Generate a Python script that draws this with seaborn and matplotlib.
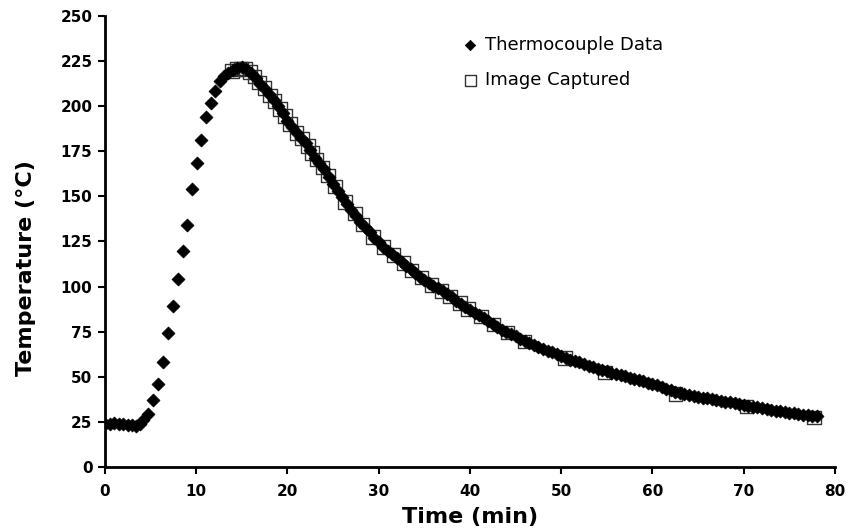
import numpy as np
import pandas as pd
import matplotlib
matplotlib.use("Agg")
import matplotlib.pyplot as plt
import seaborn as sns

# Thermocouple data (time in min, temperature in °C)
tc_time = [0, 0.5, 1, 1.5, 2, 2.5, 3, 3.4, 3.8, 4.2, 4.75, 5.25, 5.8, 6.35, 6.9, 7.45,
           8.0, 8.5, 9.0, 9.5, 10.05, 10.55, 11.05, 11.6, 12.1, 12.6, 13.0,
           13.5, 14.0, 14.5, 15.0, 15.5, 16.0, 16.5, 17.0, 17.5, 18.0, 18.5, 19.0, 19.5,
           20.0, 20.5, 21.0, 21.5, 22.0, 22.5, 23.0, 23.5, 24.0, 24.5, 25.0, 25.5,
           26.0, 26.5, 27.0, 27.5, 28.0, 28.5, 29.0, 29.5, 30.0, 30.5, 31.0, 31.5,
           32.0, 32.5, 33.0, 33.5, 34.0, 34.5, 35.0, 35.5, 36.0, 36.5, 37.0, 37.5,
           38.0, 38.5, 39.0, 39.5, 40.0, 40.5, 41.0, 41.5, 42.0, 42.5, 43.0, 43.5,
           44.0, 44.5, 45.0, 45.5, 46.0, 46.5, 47.0, 47.5, 48.0, 48.5, 49.0, 49.5,
           50.0, 50.5, 51.0, 51.5, 52.0, 52.5, 53.0, 53.5, 54.0, 54.5, 55.0, 55.5,
           56.0, 56.5, 57.0, 57.5, 58.0, 58.5, 59.0, 59.5, 60.0, 60.5, 61.0, 61.5,
           62.0, 62.5, 63.0, 63.5, 64.0, 64.5, 65.0, 65.5, 66.0, 66.5, 67.0, 67.5,
           68.0, 68.5, 69.0, 69.5, 70.0, 70.5, 71.0, 71.5, 72.0, 72.5, 73.0, 73.5,
           74.0, 74.5, 75.0, 75.5, 76.0, 76.5, 77.0, 77.5, 78.0]
tc_temp = [24, 24, 24.5, 24, 24, 23.5, 23.5, 22.5, 24, 26, 29.5, 37, 46, 58, 74, 89,
           104, 120, 134, 154, 168.5, 181.5, 194, 202, 208.5, 214, 217,
           218.5, 220, 221, 221.5, 220.5, 218.5, 215.5, 212.5, 209.5, 206.5, 203.5, 200, 196,
           192, 188.5, 185, 182.5, 179.5, 175.5, 171.5, 168.5, 165, 161, 157, 153,
           149.5, 146, 142.5, 139, 136, 133, 130, 127, 124.5, 122, 120, 118,
           116, 113.5, 111.5, 109.5, 107.5, 105.5, 103.8, 102, 100.5, 99, 97.5, 95.8,
           94, 92.2, 90.5, 88.8, 87, 85.5, 84, 82.5, 81, 79.2, 77.5, 76.2,
           75, 73.8, 72.5, 71.2, 70, 68.8, 67.5, 66.5, 65.5, 64.5, 63.5, 62.5,
           61.5, 60.5, 59.5, 58.8, 58, 57, 56, 55.2, 54.5, 53.8, 53, 52.2,
           51.5, 50.8, 50.2, 49.6, 49, 48.2, 47.5, 46.8, 46, 45.2, 44.5, 43.5,
           42.5, 41.8, 41, 40.5, 40, 39.5, 39, 38.5, 38, 37.5, 37, 36.7,
           36.3, 35.9, 35.5, 35, 34.5, 34, 33.5, 33, 32.5, 32.1, 31.7, 31.3,
           31, 30.6, 30.2, 29.8, 29.5, 29.1, 28.8, 28.4, 28]

# Image captured data
img_time = [13.9, 14.4, 14.9, 15.4, 15.9, 16.4, 16.9, 17.5, 18.1, 18.6, 19.2, 19.7,
            20.3, 21.0, 21.6, 22.25, 22.7, 23.2, 23.85, 24.45, 25.2, 26.3, 27.4, 28.2,
            29.4, 30.5, 31.6, 32.7, 33.6, 34.7, 35.8, 36.9, 37.8, 38.9, 39.8, 41.2,
            42.6, 44.1, 46.0, 50.4, 54.8, 62.5, 70.3, 77.7]
img_temp = [219.5, 220.5, 221, 220.5, 219, 216.5, 213, 210, 206, 203, 198.5, 194.5,
            190, 185, 182, 178, 174, 170.5, 166, 161.5, 155.5, 147, 140.5, 134.5,
            127.5, 122, 117.5, 113, 109, 105, 101, 97.5, 94.5, 91, 87.5, 83.5,
            79, 74.5, 69.5, 60.5, 52.5, 40.5, 33.5, 27.5]

x_ticks = [0, 10, 20, 30, 40, 50, 60, 70, 80]
y_ticks = [0, 25, 50, 75, 100, 125, 150, 175, 200, 225, 250]

tc = pd.DataFrame({"Time": tc_time, "Temp": tc_temp})
img = pd.DataFrame({"Time": img_time, "Temp": img_temp})

sns.set_style("ticks")
plt.rcParams["font.family"] = ["DejaVu Sans"]
plt.rcParams["text.color"] = "black"
plt.rcParams["axes.labelcolor"] = "black"

fig = plt.figure(figsize=(8.57, 5.29), dpi=100)
ax = fig.add_axes([0.1225, 0.1172, 0.8518, 0.8526])

sns.scatterplot(data=img, x="Time", y="Temp", ax=ax, marker="s", s=95,
                facecolor="none", edgecolor="#333333", linewidth=1.0,
                label="Image Captured", zorder=2)
sns.scatterplot(data=tc, x="Time", y="Temp", ax=ax, marker="D", s=44,
                color="black", edgecolor="black", linewidth=0.5,
                label="Thermocouple Data", zorder=3)

ax.set_xlim(0, 80)
ax.set_ylim(0, 250)
ax.set_xticks(x_ticks)
ax.set_yticks(y_ticks)
ax.set_xticklabels([str(v) for v in x_ticks], fontweight="bold", fontsize=11)
ax.set_yticklabels([str(v) for v in y_ticks], fontweight="bold", fontsize=11)
ax.set_xlabel("Time (min)", fontweight="bold", fontsize=16, color="black")
ax.set_ylabel("Temperature (°C)", fontweight="bold", fontsize=16, color="black")
ax.xaxis.set_label_coords(0.5, -0.088)
ax.yaxis.set_label_coords(-0.094, 0.44)

for side in ["top", "right"]:
    ax.spines[side].set_visible(False)
for side in ["left", "bottom"]:
    ax.spines[side].set_linewidth(2)
    ax.spines[side].set_color("black")
ax.tick_params(axis="both", width=1.5, length=5, color="black", labelcolor="black")
ax.tick_params(axis="x", pad=7)
ax.tick_params(axis="y", pad=4)

handles, labels = ax.get_legend_handles_labels()
order = [labels.index("Thermocouple Data"), labels.index("Image Captured")]
leg = ax.legend([handles[i] for i in order], [labels[i] for i in order],
                loc="upper left", bbox_to_anchor=(0.517, 0.963), bbox_transform=fig.transFigure,
                frameon=False, fontsize=13, labelspacing=0.95, handletextpad=0.25,
                markerscale=0.8, handlelength=1.2)
for t in leg.get_texts():
    t.set_color("black")

fig.savefig("out.png", dpi=100)
